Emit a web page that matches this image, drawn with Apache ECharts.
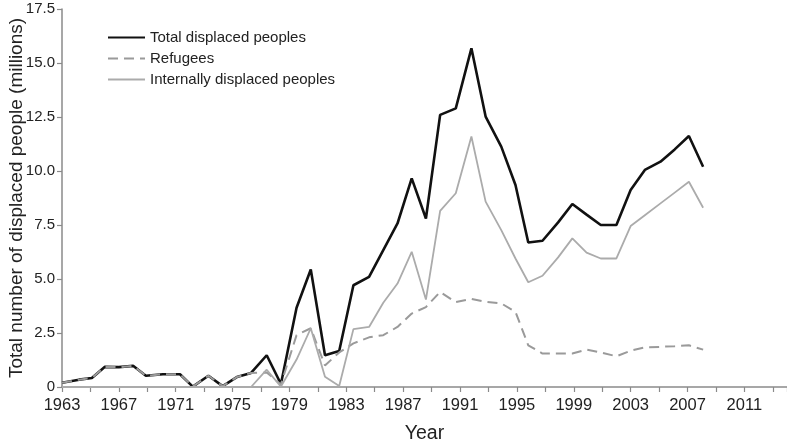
<!DOCTYPE html>
<html>
<head>
<meta charset="utf-8">
<script src="https://cdn.jsdelivr.net/npm/echarts@6/dist/echarts.min.js"></script>
<style>
html,body{margin:0;padding:0;background:#fff;}
#chart{width:787px;height:443px;}
</style>
</head>
<body>
<div id="chart"></div>
<script>
// x positions (years) of the plotted points
var years = [1963.0,1964.2,1965.1,1966.0,1967.0,1968.0,1968.9,1970.1,1971.3,1972.2,
  1973.3,1974.3,1975.3,1976.3,1977.4,1978.4,1979.5,1980.5,1981.5,1982.5,
  1983.5,1984.6,1985.6,1986.6,1987.6,1988.6,1989.6,1990.7,1991.8,1992.8,
  1993.9,1994.9,1995.8,1996.8,1997.9,1998.9,1999.9,2000.9,2002.0,2003.0,
  2004.0,2005.1,2006.1,2007.1,2008.1];

var totalDisplaced = [0.2,0.34,0.42,0.93,0.92,0.98,0.52,0.59,0.59,0.02,
  0.52,0.04,0.46,0.65,1.47,0.14,3.67,5.44,1.47,1.67,
  4.71,5.1,6.34,7.57,9.66,7.8,12.6,12.9,15.68,12.52,
  11.13,9.35,6.69,6.77,7.62,8.47,7.98,7.5,7.5,9.12,
  10.05,10.43,11.0,11.62,10.2];

var refugees = [0.2,0.34,0.42,0.93,0.92,0.98,0.52,0.59,0.59,0.02,
  0.52,0.04,0.46,0.65,0.67,0.12,2.4,2.72,1.0,1.6,
  2.02,2.3,2.4,2.78,3.4,3.7,4.4,3.93,4.08,3.94,
  3.87,3.48,1.93,1.55,1.55,1.55,1.73,1.6,1.42,1.68,
  1.83,1.86,1.89,1.93,1.73];

var internallyDisplaced = [0,0,0,0,0,0,0,0,0,0,
  0,0,0,0,0.8,0.02,1.27,2.72,0.47,0.05,
  2.68,2.78,3.9,4.79,6.26,4.05,8.15,8.97,11.6,8.58,
  7.26,5.95,4.85,5.15,6.0,6.88,6.22,5.95,5.95,7.45,
  7.95,8.5,9.0,9.5,8.3];

var seriesNames = ['Total displaced peoples','Refugees','Internally displaced peoples'];
var yTicks = [0,2.5,5,7.5,10,12.5,15,17.5];
var firstYear = 1963, lastYear = 2014;

function pairs(vals){ return vals.map(function(v,i){ return [years[i]-firstYear, v]; }); }

var FONT = "'Liberation Sans', Arial, Helvetica, sans-serif";
var chart = echarts.init(document.getElementById('chart'));
chart.setOption({
  animation:false,
  backgroundColor:'#fff',
  textStyle:{fontFamily:FONT},
  grid:{left:62, right:0, top:9, bottom:56, containLabel:false, outerBoundsMode:'none'},
  legend:{
    orient:'vertical', left:102, top:25, itemWidth:37, itemHeight:14, itemGap:6,
    itemStyle:{opacity:0},
    textStyle:{fontSize:15, color:'#222', fontFamily:FONT},
    data:seriesNames
  },
  xAxis:{
    type:'value', min:0, max:lastYear-firstYear, interval:2,
    name:'Year', nameLocation:'middle', nameGap:37, nameMoveOverlap:false,
    nameTextStyle:{fontSize:19.5, color:'#222', fontFamily:FONT},
    axisLine:{show:true, lineStyle:{color:'#8a8a8a', width:1.5}},
    axisTick:{show:true, length:5, lineStyle:{color:'#8a8a8a', width:1.2}},
    splitLine:{show:false},
    axisLabel:{fontSize:16.5, color:'#222', margin:10, fontFamily:FONT,
      formatter:function(v){ return (v%4===0) ? String(firstYear+v) : ''; }}
  },
  yAxis:{
    type:'value', min:yTicks[0], max:yTicks[yTicks.length-1], interval:2.5,
    name:'Total number of displaced people (millions)', nameLocation:'middle', nameGap:36, nameMoveOverlap:false,
    nameTextStyle:{fontSize:19, color:'#222', fontFamily:FONT},
    axisLine:{show:true, lineStyle:{color:'#8a8a8a', width:1.5}},
    axisTick:{show:true, length:5, lineStyle:{color:'#8a8a8a', width:1.2}},
    splitLine:{show:false},
    axisLabel:{fontSize:15, color:'#222', margin:7, fontFamily:FONT,
      formatter:function(v){ return v===0 ? '0' : v.toFixed(1); }}
  },
  series:[
    {name:seriesNames[0], type:'line', symbol:'none', data:pairs(totalDisplaced),
      lineStyle:{color:'#111', width:2.6}, itemStyle:{color:'#111'}},
    {name:seriesNames[1], type:'line', symbol:'none', data:pairs(refugees),
      lineStyle:{color:'#9a9a9a', width:2, type:[10,6]}, itemStyle:{color:'#9a9a9a'}},
    {name:seriesNames[2], type:'line', symbol:'none', data:pairs(internallyDisplaced),
      lineStyle:{color:'#ababab', width:1.8}, itemStyle:{color:'#ababab'}}
  ]
});
</script>
</body>
</html>
